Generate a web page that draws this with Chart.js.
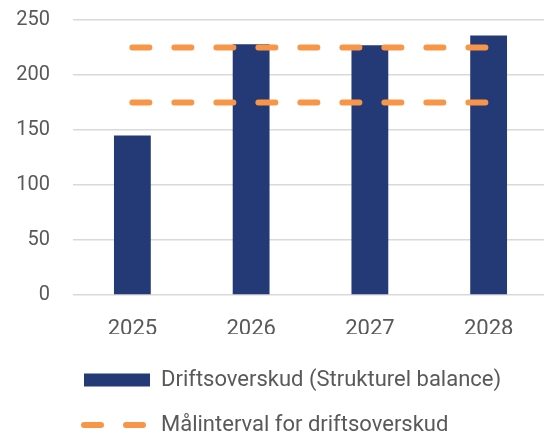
<!DOCTYPE html>
<html>
<head>
<meta charset="utf-8">
<script src="https://cdn.jsdelivr.net/npm/chart.js@4"></script>
<style>
  body { margin: 0; background: #fff; overflow: hidden; }
  #wrap { width: 548px; height: 434px; }
</style>
</head>
<body>
<div id="wrap"><canvas id="myChart"></canvas></div>
<script>

// DATA //

const years = ['2025', '2026', '2027', '2028'];
const driftsoverskud = [145, 228, 227, 236];
const maalOevre = [225, 225, 225, 225];
const maalNedre = [175, 175, 175, 175];
const labelBar = 'Driftsoverskud (Strukturel balance)';
const labelMaal = 'Målinterval for driftsoverskud';

const blue = '#243a77';
const orange = '#f79646';
const grey = '#595959';

// flytter legenden ind under akserne
const legendShift = {
  id: 'legendShift',
  afterLayout(chart) {
    chart.legend.left = 61;
    chart.legend.top = 346;
  }
};

const ctx = document.getElementById('myChart');

new Chart(ctx, {
  type: 'bar',
  data: {
    labels: years,
    datasets: [{
      label: labelBar,
      data: driftsoverskud,
      backgroundColor: blue,
      barPercentage: 0.31,
      categoryPercentage: 1,
      order: 1
    }, {
      type: 'line',
      label: labelMaal,
      data: maalOevre,
      borderColor: orange,
      borderWidth: 6,
      borderDash: [17, 25],
      borderCapStyle: 'round',
      pointRadius: 0,
      fill: false,
      order: 0
    }, {
      type: 'line',
      label: labelMaal,
      data: maalNedre,
      borderColor: orange,
      borderWidth: 6,
      borderDash: [17, 25],
      borderCapStyle: 'round',
      pointRadius: 0,
      fill: false,
      order: 0
    }]
  },
  options: {
    responsive: true,
    maintainAspectRatio: false,
    animation: false,
    layout: {
      autoPadding: false,
      padding: { left: 16, right: 0, top: 20, bottom: 0 }
    },
    scales: {
      x: {
        grid: { display: false },
        border: { display: false },
        ticks: {
          color: grey,
          padding: 13,
          font: { family: 'Roboto', size: 22 }
        },
        afterFit(axis) {
          axis.height = 39;
          axis.paddingLeft = 0;
          axis.paddingRight = 0;
        }
      },
      y: {
        min: 0,
        max: 250,
        grid: { color: '#d9d9d9', lineWidth: 1.5, drawTicks: false },
        border: { display: false },
        ticks: {
          stepSize: 50,
          color: grey,
          padding: 23,
          font: { family: 'Roboto', size: 20 }
        },
        afterFit(axis) {
          axis.width = 57;
          axis.paddingTop = 0;
          axis.paddingBottom = 0;
        }
      }
    },
    plugins: {
      tooltip: { enabled: false },
      legend: {
        position: 'bottom',
        align: 'start',
        labels: {
          usePointStyle: true,
          pointStyleWidth: 66,
          boxHeight: 13,
          padding: 23,
          color: grey,
          font: { family: 'Roboto', size: 22 },
          generateLabels: () => [
            { text: labelBar, fillStyle: blue, strokeStyle: blue, lineWidth: 0,
              pointStyle: 'rect', fontColor: grey, datasetIndex: 0 },
            { text: labelMaal, fillStyle: 'rgba(0,0,0,0)', strokeStyle: orange, lineWidth: 6,
              lineDash: [17, 25], lineCap: 'round', pointStyle: 'line', fontColor: grey, datasetIndex: 1 }
          ]
        }
      }
    }
  },
  plugins: [legendShift]
});

</script>
</body>
</html>
